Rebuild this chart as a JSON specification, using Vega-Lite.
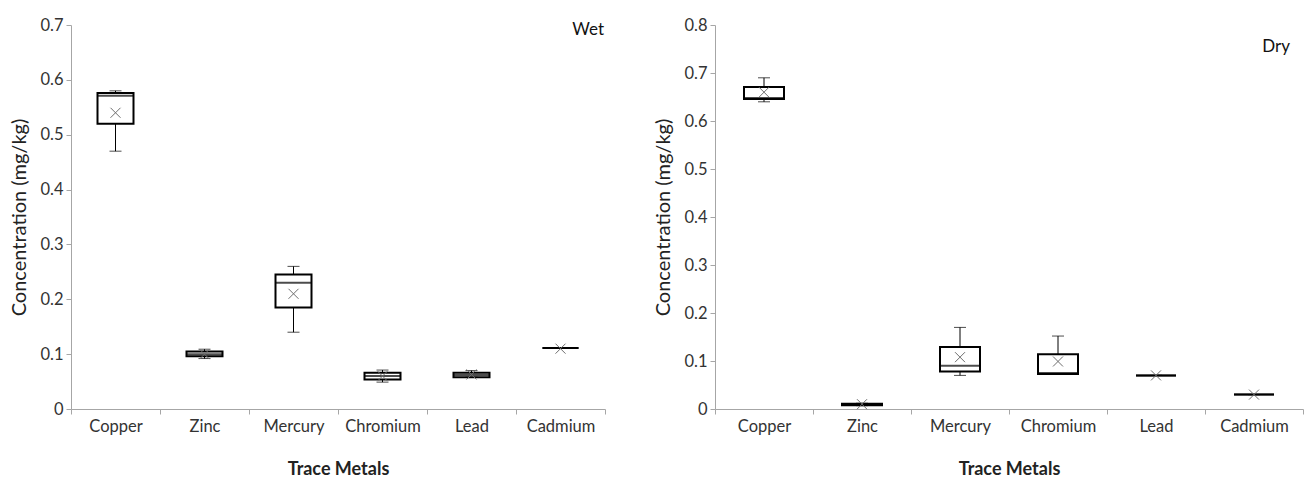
{
  "$schema": "https://vega.github.io/schema/vega-lite/v6.json",
  "padding": {"left": 9, "top": 17, "right": 0, "bottom": 0},
  "background": "white",
  "config": {
    "view": {"stroke": null},
    "font": "Lato",
    "axis": {
      "labelFont": "Lato", "titleFont": "Lato", "labelFontSize": 16.5, "titleFontSize": 20,
      "labelColor": "#333333", "titleColor": "#222222",
      "domainColor": "#a6a6a6", "tickColor": "#a6a6a6", "tickSize": 5, "grid": false
    }
  },
  "datasets": {
    "box": [
      {"panel": "Wet", "metal": "Copper", "min": 0.47, "q1": 0.52, "median": 0.571, "q3": 0.576, "max": 0.58, "mean": 0.54},
      {"panel": "Wet", "metal": "Zinc", "min": 0.092, "q1": 0.096, "median": 0.1, "q3": 0.105, "max": 0.109, "mean": 0.1},
      {"panel": "Wet", "metal": "Mercury", "min": 0.14, "q1": 0.185, "median": 0.23, "q3": 0.245, "max": 0.26, "mean": 0.21},
      {"panel": "Wet", "metal": "Chromium", "min": 0.049, "q1": 0.054, "median": 0.06, "q3": 0.066, "max": 0.071, "mean": 0.06},
      {"panel": "Wet", "metal": "Lead", "min": 0.058, "q1": 0.058, "median": 0.062, "q3": 0.066, "max": 0.07, "mean": 0.063},
      {"panel": "Wet", "metal": "Cadmium", "min": 0.111, "q1": 0.111, "median": 0.111, "q3": 0.111, "max": 0.111, "mean": 0.11},
      {"panel": "Dry", "metal": "Copper", "min": 0.64, "q1": 0.646, "median": 0.648, "q3": 0.671, "max": 0.69, "mean": 0.66},
      {"panel": "Dry", "metal": "Zinc", "min": 0.007, "q1": 0.008, "median": 0.01, "q3": 0.011, "max": 0.012, "mean": 0.01},
      {"panel": "Dry", "metal": "Mercury", "min": 0.07, "q1": 0.078, "median": 0.09, "q3": 0.129, "max": 0.17, "mean": 0.108},
      {"panel": "Dry", "metal": "Chromium", "min": 0.073, "q1": 0.073, "median": 0.075, "q3": 0.114, "max": 0.152, "mean": 0.099},
      {"panel": "Dry", "metal": "Lead", "min": 0.07, "q1": 0.07, "median": 0.07, "q3": 0.07, "max": 0.07, "mean": 0.07},
      {"panel": "Dry", "metal": "Cadmium", "min": 0.03, "q1": 0.03, "median": 0.03, "q3": 0.03, "max": 0.03, "mean": 0.03}
    ],
    "labels": [
      {"panel": "Wet", "label": "Wet", "metal": "Cadmium", "y": 0.69},
      {"panel": "Dry", "label": "Dry", "metal": "Cadmium", "y": 0.755}
    ]
  },
  "hconcat": [
    {
      "width": 534,
      "height": 384,
      "layer": [
        {
          "data": {"name": "box"},
          "transform": [{"filter": "datum.panel === 'Wet'"}],
          "mark": {"type": "rule", "color": "black", "strokeWidth": 1},
          "encoding": {
            "x": {"field": "metal", "type": "nominal", "sort": ["Copper", "Zinc", "Mercury", "Chromium", "Lead", "Cadmium"], "scale": {"paddingInner": 0, "paddingOuter": 0}, "title": "Trace Metals",
              "axis": {"labelAngle": 0, "tickBand": "extent", "labelPadding": 4, "titlePadding": 26, "titleFontWeight": "bold", "titleFontSize": 18}},
            "y": {"field": "min", "type": "quantitative", "scale": {"domain": [0, 0.7], "nice": false}, "title": "Concentration (mg/kg)",
              "axis": {"values": [0, 0.1, 0.2, 0.3, 0.4, 0.5, 0.6, 0.7], "format": "~g", "labelPadding": 3, "titlePadding": 10, "titleFontWeight": "normal"}},
            "y2": {"field": "max"}
          }
        },
        {
          "data": {"name": "box"},
          "transform": [{"filter": "datum.panel === 'Wet'"}],
          "mark": {"type": "bar", "fill": "white", "stroke": "black", "strokeWidth": 2, "size": 36},
          "encoding": {
            "x": {"field": "metal", "type": "nominal", "sort": ["Copper", "Zinc", "Mercury", "Chromium", "Lead", "Cadmium"]},
            "y": {"field": "q1", "type": "quantitative"},
            "y2": {"field": "q3"}
          }
        },
        {
          "data": {"name": "box"},
          "transform": [{"filter": "datum.panel === 'Wet'"}],
          "mark": {"type": "tick", "color": "black", "thickness": 2, "size": 36},
          "encoding": {
            "x": {"field": "metal", "type": "nominal", "sort": ["Copper", "Zinc", "Mercury", "Chromium", "Lead", "Cadmium"]},
            "y": {"field": "median", "type": "quantitative"}
          }
        },
        {
          "data": {"name": "box"},
          "transform": [{"filter": "datum.panel === 'Wet'"}],
          "mark": {"type": "tick", "color": "black", "thickness": 1, "size": 12},
          "encoding": {
            "x": {"field": "metal", "type": "nominal", "sort": ["Copper", "Zinc", "Mercury", "Chromium", "Lead", "Cadmium"]},
            "y": {"field": "min", "type": "quantitative"}
          }
        },
        {
          "data": {"name": "box"},
          "transform": [{"filter": "datum.panel === 'Wet'"}],
          "mark": {"type": "tick", "color": "black", "thickness": 1, "size": 12},
          "encoding": {
            "x": {"field": "metal", "type": "nominal", "sort": ["Copper", "Zinc", "Mercury", "Chromium", "Lead", "Cadmium"]},
            "y": {"field": "max", "type": "quantitative"}
          }
        },
        {
          "data": {"name": "box"},
          "transform": [{"filter": "datum.panel === 'Wet'"}],
          "mark": {"type": "point", "shape": "M-1,-1L1,1M-1,1L1,-1", "filled": false, "stroke": "#6e6e6e", "strokeWidth": 1, "size": 100, "opacity": 1},
          "encoding": {
            "x": {"field": "metal", "type": "nominal", "sort": ["Copper", "Zinc", "Mercury", "Chromium", "Lead", "Cadmium"]},
            "y": {"field": "mean", "type": "quantitative"}
          }
        },
        {
          "data": {"name": "labels"},
          "transform": [{"filter": "datum.panel === 'Wet'"}],
          "mark": {"type": "text", "align": "right", "baseline": "middle", "fontSize": 17, "font": "Lato", "color": "#111111", "dx": -1},
          "encoding": {
            "x": {"field": "metal", "type": "nominal", "sort": ["Copper", "Zinc", "Mercury", "Chromium", "Lead", "Cadmium"], "bandPosition": 1},
            "y": {"field": "y", "type": "quantitative"},
            "text": {"field": "label"}
          }
        }
      ]
    },
    {
      "width": 588,
      "height": 384,
      "layer": [
        {
          "data": {"name": "box"},
          "transform": [{"filter": "datum.panel === 'Dry'"}],
          "mark": {"type": "rule", "color": "black", "strokeWidth": 1},
          "encoding": {
            "x": {"field": "metal", "type": "nominal", "sort": ["Copper", "Zinc", "Mercury", "Chromium", "Lead", "Cadmium"], "scale": {"paddingInner": 0, "paddingOuter": 0}, "title": "Trace Metals",
              "axis": {"labelAngle": 0, "tickBand": "extent", "labelPadding": 4, "titlePadding": 26, "titleFontWeight": "bold", "titleFontSize": 18}},
            "y": {"field": "min", "type": "quantitative", "scale": {"domain": [0, 0.8], "nice": false}, "title": "Concentration (mg/kg)",
              "axis": {"values": [0, 0.1, 0.2, 0.3, 0.4, 0.5, 0.6, 0.7, 0.8], "format": "~g", "labelPadding": 3, "titlePadding": 10, "titleFontWeight": "normal"}},
            "y2": {"field": "max"}
          }
        },
        {
          "data": {"name": "box"},
          "transform": [{"filter": "datum.panel === 'Dry'"}],
          "mark": {"type": "bar", "fill": "white", "stroke": "black", "strokeWidth": 2, "size": 40},
          "encoding": {
            "x": {"field": "metal", "type": "nominal", "sort": ["Copper", "Zinc", "Mercury", "Chromium", "Lead", "Cadmium"]},
            "y": {"field": "q1", "type": "quantitative"},
            "y2": {"field": "q3"}
          }
        },
        {
          "data": {"name": "box"},
          "transform": [{"filter": "datum.panel === 'Dry'"}],
          "mark": {"type": "tick", "color": "black", "thickness": 2, "size": 40},
          "encoding": {
            "x": {"field": "metal", "type": "nominal", "sort": ["Copper", "Zinc", "Mercury", "Chromium", "Lead", "Cadmium"]},
            "y": {"field": "median", "type": "quantitative"}
          }
        },
        {
          "data": {"name": "box"},
          "transform": [{"filter": "datum.panel === 'Dry'"}],
          "mark": {"type": "tick", "color": "black", "thickness": 1, "size": 12},
          "encoding": {
            "x": {"field": "metal", "type": "nominal", "sort": ["Copper", "Zinc", "Mercury", "Chromium", "Lead", "Cadmium"]},
            "y": {"field": "min", "type": "quantitative"}
          }
        },
        {
          "data": {"name": "box"},
          "transform": [{"filter": "datum.panel === 'Dry'"}],
          "mark": {"type": "tick", "color": "black", "thickness": 1, "size": 12},
          "encoding": {
            "x": {"field": "metal", "type": "nominal", "sort": ["Copper", "Zinc", "Mercury", "Chromium", "Lead", "Cadmium"]},
            "y": {"field": "max", "type": "quantitative"}
          }
        },
        {
          "data": {"name": "box"},
          "transform": [{"filter": "datum.panel === 'Dry'"}],
          "mark": {"type": "point", "shape": "M-1,-1L1,1M-1,1L1,-1", "filled": false, "stroke": "#6e6e6e", "strokeWidth": 1, "size": 100, "opacity": 1},
          "encoding": {
            "x": {"field": "metal", "type": "nominal", "sort": ["Copper", "Zinc", "Mercury", "Chromium", "Lead", "Cadmium"]},
            "y": {"field": "mean", "type": "quantitative"}
          }
        },
        {
          "data": {"name": "labels"},
          "transform": [{"filter": "datum.panel === 'Dry'"}],
          "mark": {"type": "text", "align": "right", "baseline": "middle", "fontSize": 17, "font": "Lato", "color": "#111111", "dx": -13},
          "encoding": {
            "x": {"field": "metal", "type": "nominal", "sort": ["Copper", "Zinc", "Mercury", "Chromium", "Lead", "Cadmium"], "bandPosition": 1},
            "y": {"field": "y", "type": "quantitative"},
            "text": {"field": "label"}
          }
        }
      ]
    }
  ],
  "spacing": 47
}
